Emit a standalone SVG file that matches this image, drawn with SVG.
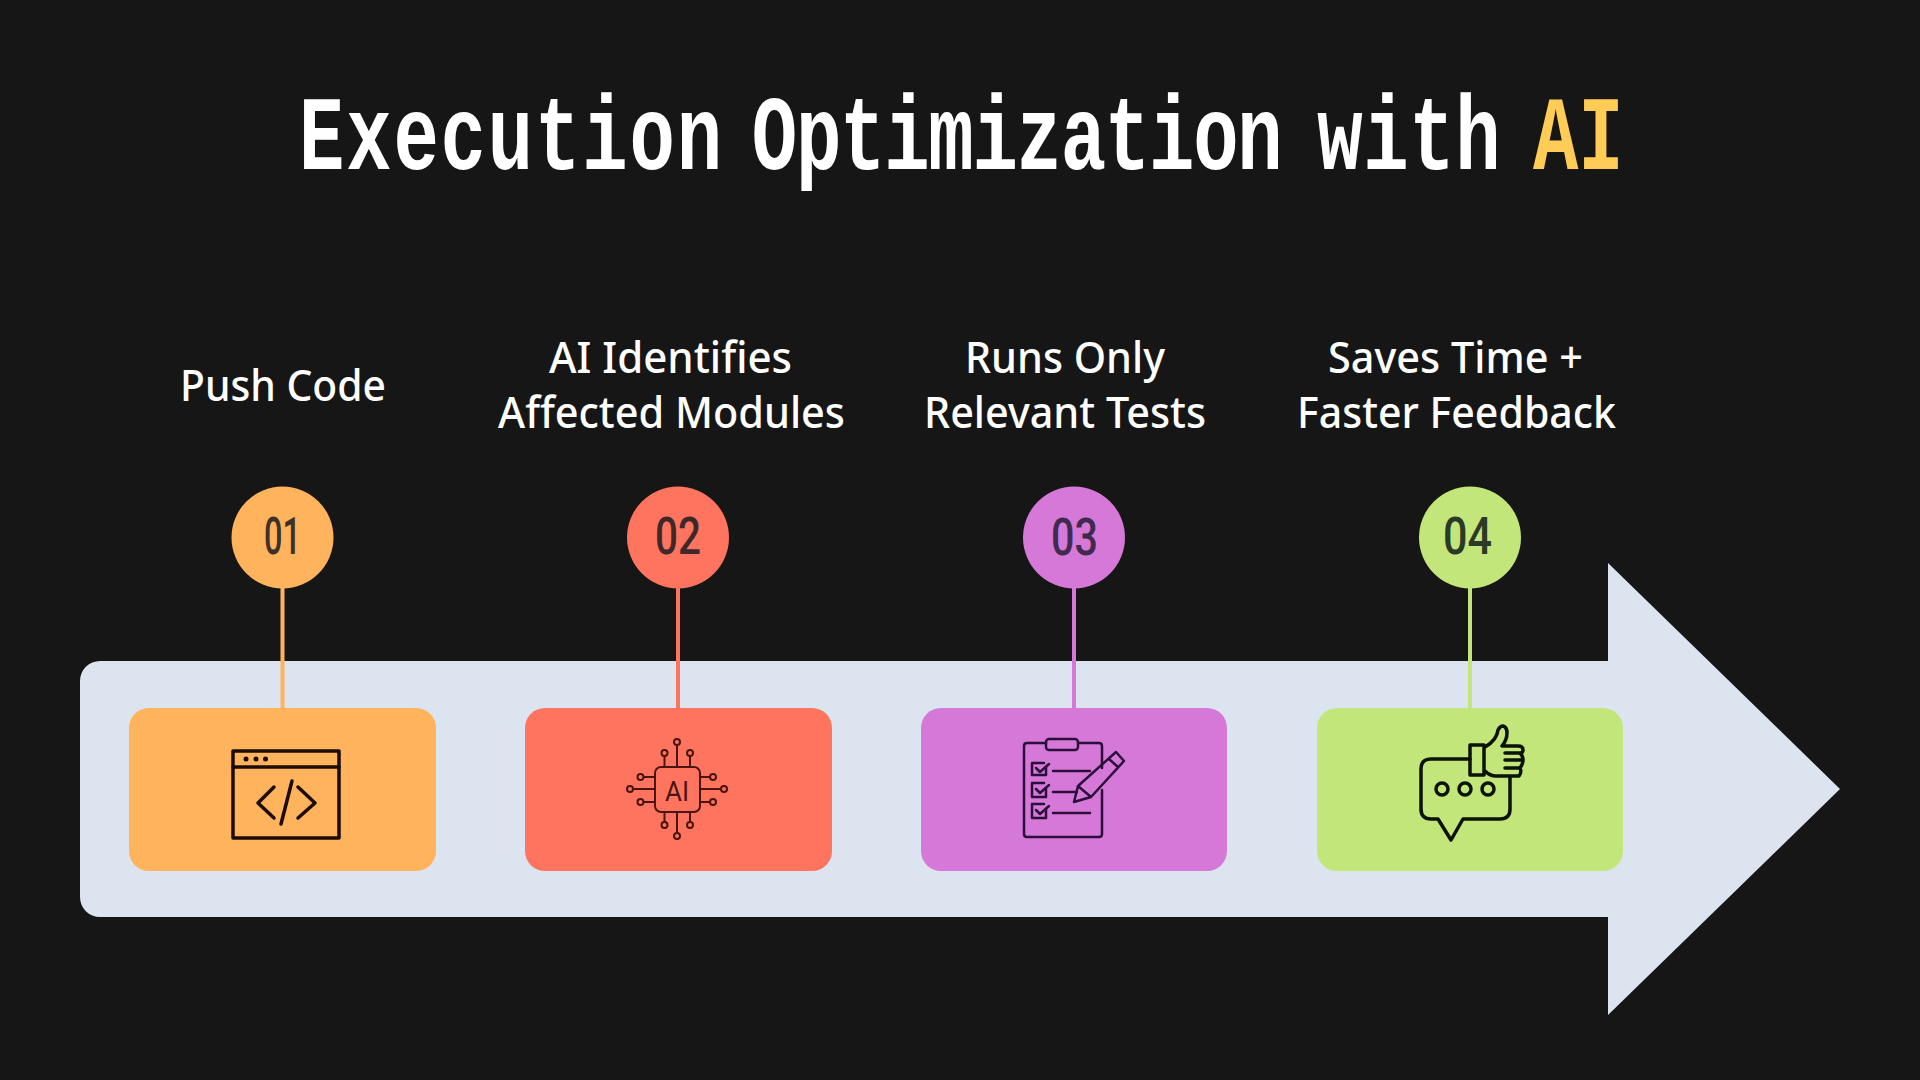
<svg xmlns="http://www.w3.org/2000/svg" width="1920" height="1080" viewBox="0 0 1920 1080">
<style>
.title{font-family:"Liberation Mono",monospace;font-weight:700;font-size:106px}
.label{font-family:"Noto Sans","Open Sans",sans-serif;font-size:44px;font-weight:500;fill:#fff}
.num{font-family:Roboto,"Liberation Sans",sans-serif;font-size:51px;font-weight:500}
.ic{fill:none;stroke-width:3.500;stroke-linecap:round;stroke-linejoin:round}
.stem{stroke-width:4;fill:none}
</style>
<rect width="1920" height="1080" fill="#161616"/>
<text class="title" transform="translate(299 169) scale(.713 1)" fill="#fff"><tspan letter-spacing="2.600">Execution </tspan><tspan x="635" letter-spacing="-1.700">Optimization </tspan><tspan x="1428" letter-spacing="1">with</tspan></text>
<text class="title" transform="translate(1533 169) scale(.713 1)" fill="#ffcc55">AI</text>
<path id="arrow" d="M100 661H1608V563L1840 789L1608 1015V917H100A20 20 0 0 1 80 897V681A20 20 0 0 1 100 661Z" fill="#dce4f0"/>
<g id="connectors">
<line class="stem" x1="282.500" y1="585" x2="282.500" y2="710" stroke="#ffb35c"/>
<line class="stem" x1="678" y1="585" x2="678" y2="710" stroke="#ff745e"/>
<line class="stem" x1="1074" y1="585" x2="1074" y2="710" stroke="#d678d8"/>
<line class="stem" x1="1470" y1="585" x2="1470" y2="710" stroke="#c3e67a"/>
</g>
<g id="step1">
<text class="label" x="180" y="401" textLength="206" lengthAdjust="spacingAndGlyphs">Push Code</text>
<circle cx="282.500" cy="537.500" r="51" fill="#ffb35c"/>
<text class="num" x="264" y="554" textLength="37" lengthAdjust="spacingAndGlyphs" fill="#40302a">01</text>
<rect x="129" y="708" width="307" height="163" rx="20" fill="#ffb35c"/>
<g class="ic" stroke="#1c0c08">
<rect x="233" y="751" width="106" height="87"/>
<line x1="233" y1="767" x2="339" y2="767"/>
<path d="M274 787L258 803L274 818M298 787L315 803L298 818M292 781L281 824"/>
</g>
<g fill="#1c0c08"><circle cx="246" cy="759" r="2.500"/><circle cx="256" cy="759" r="2.500"/><circle cx="265.500" cy="759" r="2.500"/></g>
</g>
<g id="step2">
<text class="label" x="549" y="373" textLength="243" lengthAdjust="spacingAndGlyphs">AI Identifies</text>
<text class="label" x="498" y="428" textLength="347" lengthAdjust="spacingAndGlyphs">Affected Modules</text>
<circle cx="678" cy="537.500" r="51" fill="#ff745e"/>
<text class="num" x="655" y="554" textLength="46" lengthAdjust="spacingAndGlyphs" fill="#40282a">02</text>
<rect x="525" y="708" width="307" height="163" rx="20" fill="#ff745e"/>
<g class="ic" stroke="#4a1410" style="stroke-width:2">
<rect x="655" y="767" width="45" height="45" rx="6"/>
<path d="M677 767V745M664.500 767V757M690 767V757M677 812V833M664.500 812V822M690 812V822M655 789H634M655 777H644M655 802H644M700 789H720M700 777H710M700 802H710"/>
<circle cx="677" cy="742" r="3"/><circle cx="664.500" cy="753" r="3"/><circle cx="690" cy="753" r="3"/>
<circle cx="677" cy="836" r="3"/><circle cx="664.500" cy="825" r="3"/><circle cx="690" cy="825" r="3"/>
<circle cx="630" cy="789" r="3"/><circle cx="640.500" cy="777" r="3"/><circle cx="640.500" cy="802" r="3"/>
<circle cx="724" cy="789" r="3"/><circle cx="713" cy="777" r="3"/><circle cx="713" cy="802" r="3"/>
</g>
<text x="665" y="801" textLength="24" lengthAdjust="spacingAndGlyphs" font-family="Roboto,sans-serif" font-size="28" fill="#4a1410">AI</text>
</g>
<g id="step3">
<text class="label" x="965" y="373" textLength="200" lengthAdjust="spacingAndGlyphs">Runs Only</text>
<text class="label" x="924" y="428" textLength="282" lengthAdjust="spacingAndGlyphs">Relevant Tests</text>
<circle cx="1074" cy="537.500" r="51" fill="#d678d8"/>
<text class="num" x="1051" y="555" textLength="47" lengthAdjust="spacingAndGlyphs" fill="#402a50">03</text>
<rect x="921" y="708" width="306" height="163" rx="20" fill="#d678d8"/>
<g class="ic" stroke="#2a0f3a" style="stroke-width:2.500">
<path d="M1046 743H1027Q1024 743 1024 746V834Q1024 837 1027 837H1099Q1102 837 1102 834V790M1078 743H1099Q1102 743 1102 746V768"/>
<rect x="1046" y="739" width="32" height="11" rx="3"/>
<path d="M1046 767V775H1032V763H1044M1046 788V797H1032V783H1044M1046 809V818H1032V804H1044"/>
<path d="M1036 768L1040 772L1049 764M1036 789L1040 793L1049 785M1036 810L1040 814L1049 806"/>
<path d="M1053 771H1090M1053 792H1077M1053 813H1090"/>
<path d="M1074 802L1078 786L1116 752L1124 761L1091 797ZM1109 759L1118 767M1078 786L1091 797"/>
</g>
</g>
<g id="step4">
<text class="label" x="1328" y="373" textLength="255" lengthAdjust="spacingAndGlyphs">Saves Time +</text>
<text class="label" x="1297" y="428" textLength="319" lengthAdjust="spacingAndGlyphs">Faster Feedback</text>
<circle cx="1470" cy="537.500" r="51" fill="#c3e67a"/>
<text class="num" x="1443" y="554" textLength="49" lengthAdjust="spacingAndGlyphs" fill="#2a3a28">04</text>
<rect x="1317" y="708" width="306" height="163" rx="20" fill="#c3e67a"/>
<g class="ic" stroke="#0c1208" style="stroke-width:3.500">
<path d="M1470 759H1431Q1421 759 1421 769V809Q1421 819 1431 819H1438L1451 840L1463 819H1500Q1510 819 1510 809V777"/>
<rect x="1470" y="745" width="14" height="30"/>
<path d="M1485 747Q1497 740 1498 730Q1500 726 1503 726Q1507 727 1507 733Q1507 740 1502 746H1518Q1523 746 1523 750Q1523 753 1520 753Q1523 756 1523 760Q1523 764 1520 768Q1522 772 1519 776H1496Q1490 776 1485 771M1505 753H1520M1505 760H1522M1505 768H1520"/>
<circle cx="1442" cy="789" r="6"/><circle cx="1465" cy="789" r="6"/><circle cx="1488" cy="789" r="6"/>
</g>
</g>
</svg>
